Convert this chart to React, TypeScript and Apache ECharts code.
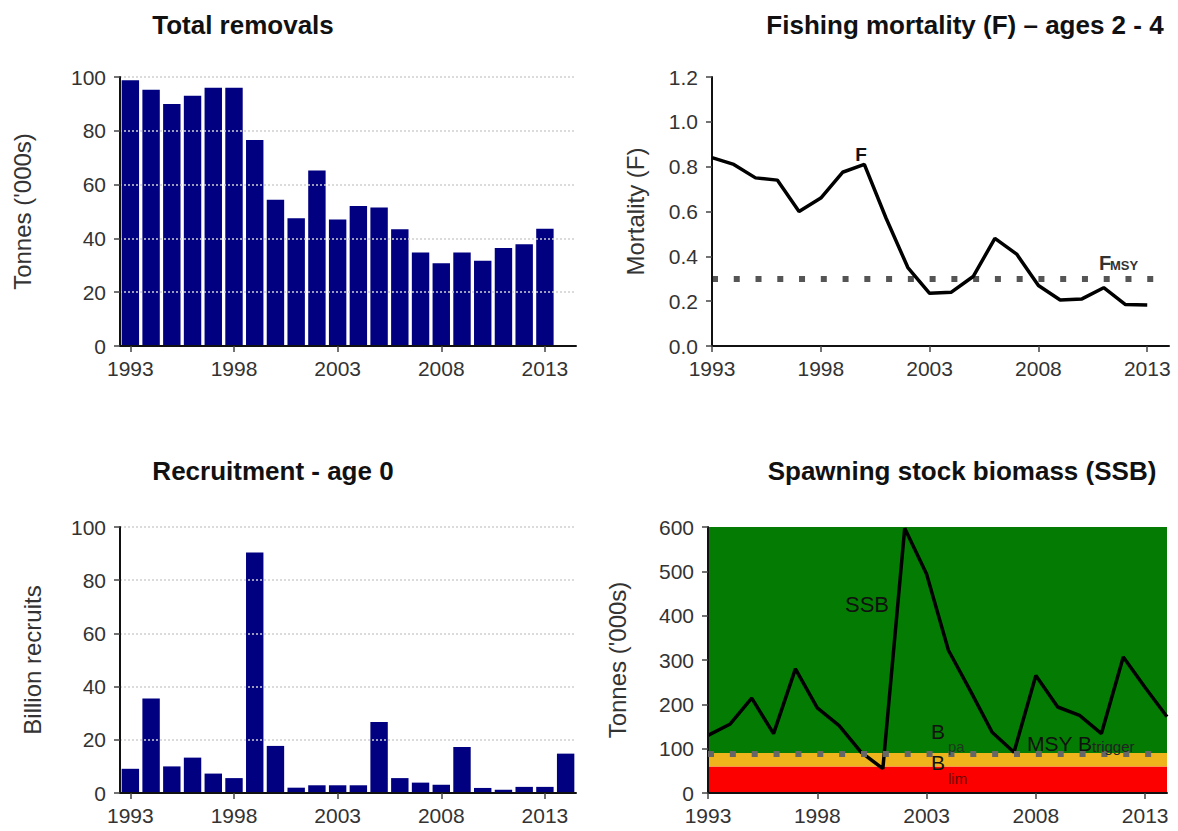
import React, { useEffect, useRef } from "react";
import * as echarts from "echarts";

// ---------- data ----------
const years = [
  "1993", "1994", "1995", "1996", "1997", "1998", "1999", "2000", "2001", "2002", "2003",
  "2004", "2005", "2006", "2007", "2008", "2009", "2010", "2011", "2012", "2013", "2014",
];
// Total removals, tonnes ('000s), 1993-2013
const removals = [98.8, 95.3, 90, 93, 96, 96, 76.6, 54.4, 47.5, 65.2, 47, 52, 51.5, 43.4, 34.8, 30.8, 34.8, 31.7, 36.4, 37.8, 43.6];
// Recruitment age 0, billion recruits, 1993-2014
const recruitment = [9.1, 35.5, 10, 13.3, 7.3, 5.6, 90.4, 17.7, 2, 2.9, 2.9, 2.9, 26.7, 5.6, 3.9, 3.1, 17.3, 1.9, 1.2, 2.3, 2.3, 14.8];
// Fishing mortality ages 2-4, 1993-2013
const fishingMortality = [0.84, 0.81, 0.75, 0.74, 0.6, 0.66, 0.775, 0.81, 0.57, 0.35, 0.235, 0.24, 0.31, 0.48, 0.41, 0.27, 0.205, 0.21, 0.26, 0.185, 0.183];
const fMsy = 0.3;
// Spawning stock biomass, tonnes ('000s), 1993-2014
const ssb = [130, 155, 214, 134, 280, 192, 152, 92, 55, 597, 494, 322, 231, 137, 92, 265, 194, 175, 134, 307, 238, 172];
const bLim = 60;
const bPa = 90;
const msyBtrigger = 89;

// ---------- styles ----------
const FONT = '"Liberation Sans", Arial, Helvetica, sans-serif';
const NAVY = "#000080";
const GREEN = "#047c04";
const ORANGE = "#efb41c";
const RED = "#fc0000";

const tickLabel = { color: "#333", fontSize: 21, fontFamily: FONT };
const axisLine = { show: true, lineStyle: { color: "#111", width: 2 } };
const yTick = { show: true, length: 6, lineStyle: { color: "#444", width: 1.5 } };

function txt(text: string, x: number, y: number, size: number, opts: any = {}) {
  const align = opts.align || "center";
  return {
    type: "text",
    x,
    y,
    z: 100,
    silent: true,
    style: {
      text,
      fontSize: size,
      fontFamily: FONT,
      fontWeight: opts.bold ? "bold" : "normal",
      fill: opts.color || "#111",
      align,
      verticalAlign: "middle",
      textAlign: align,
      textVerticalAlign: "middle",
    },
  };
}

function catX(gridIndex: number, boundaryGap: boolean) {
  return {
    type: "category",
    gridIndex,
    data: years,
    boundaryGap,
    z: 3,
    axisLine,
    axisTick: { show: true, alignWithLabel: true, interval: 4, length: 6, lineStyle: { color: "#444", width: 1.5 } },
    axisLabel: { interval: 4, margin: 12, ...tickLabel },
    splitLine: { show: false },
  };
}

function valY(gridIndex: number, max: number, interval: number, name: string, nameGap: number, grid: boolean, fmt?: (v: number) => string) {
  return {
    type: "value",
    gridIndex,
    min: 0,
    max,
    interval,
    z: 3,
    name,
    nameLocation: "middle",
    nameGap,
    nameRotate: 90,
    nameTextStyle: { color: "#333", fontSize: 24, fontFamily: FONT },
    axisLine,
    axisTick: yTick,
    axisLabel: { margin: 14, ...tickLabel, formatter: fmt },
    splitLine: grid
      ? { show: true, lineStyle: { color: "#cfcfcf", width: 1.5, type: [2, 2] } }
      : { show: false },
  };
}

export default function App() {
  const ref = useRef<HTMLDivElement>(null);

  useEffect(() => {
    if (!ref.current) return;
    const chart = echarts.init(ref.current, undefined, { renderer: "svg" });
    const period4 = 459 / 21;
    const period2 = 457 / 21;

    const option: any = {
      animation: false,
      backgroundColor: "#ffffff",
      grid: [
        { left: 120, top: 77, width: 456, height: 269 },
        { left: 712, top: 77, width: 457, height: 269 },
        { left: 120, top: 527, width: 456, height: 266 },
        { left: 708, top: 527, width: 459, height: 266 },
      ],
      xAxis: [catX(0, true), catX(1, false), catX(2, true), catX(3, false)],
      yAxis: [
        valY(0, 100, 20, "Tonnes ('000s)", 86, true),
        valY(1, 1.2, 0.2, "Mortality (F)", 65, false, (v: number) => v.toFixed(1)),
        valY(2, 100, 20, "Billion recruits", 76, true),
        valY(3, 600, 100, "Tonnes ('000s)", 79, false),
      ],
      series: [
        {
          type: "bar",
          xAxisIndex: 0,
          yAxisIndex: 0,
          data: removals,
          barCategoryGap: "16%",
          itemStyle: { color: NAVY },
        },
        {
          type: "line",
          xAxisIndex: 1,
          yAxisIndex: 1,
          data: fishingMortality,
          symbol: "none",
          lineStyle: { color: "#000", width: 3.5 },
          z: 3,
          markLine: {
            silent: true,
            symbol: ["none", "none"],
            label: { show: false },
            lineStyle: { color: "#555", width: 6, type: [6, period2 - 6] },
            data: [[{ coord: ["1993", fMsy] }, { coord: ["2014", fMsy] }]],
            z: 2,
          },
        },
        {
          type: "bar",
          xAxisIndex: 2,
          yAxisIndex: 2,
          data: recruitment,
          barCategoryGap: "16%",
          itemStyle: { color: NAVY },
        },
        {
          type: "line",
          xAxisIndex: 3,
          yAxisIndex: 3,
          data: ssb,
          symbol: "none",
          lineStyle: { color: "#000", width: 3.5 },
          z: 2,
          markArea: {
            silent: true,
            data: [
              [{ coord: ["1993", 0], itemStyle: { color: RED } }, { coord: ["2014", bLim] }],
              [{ coord: ["1993", bLim], itemStyle: { color: ORANGE } }, { coord: ["2014", bPa] }],
              [{ coord: ["1993", bPa], itemStyle: { color: GREEN } }, { coord: ["2014", 600] }],
            ],
          },
          markLine: {
            silent: true,
            symbol: ["none", "none"],
            label: { show: false },
            lineStyle: { color: "#666", width: 6, type: [6, period4 - 6] },
            data: [[{ coord: ["1993", msyBtrigger] }, { coord: ["2014", msyBtrigger] }]],
          },
        },
      ],
      graphic: [
        txt("Total removals", 243, 25, 26, { bold: true }),
        txt("Fishing mortality (F) \u2013 ages 2 - 4", 965, 25, 26, { bold: true }),
        txt("Recruitment - age 0", 273, 471, 26, { bold: true }),
        txt("Spawning stock biomass (SSB)", 962, 471, 26, { bold: true }),
        txt("F", 861, 154, 19, { bold: true }),
        txt("F", 1099, 263, 20, { bold: true, align: "left", color: "#333" }),
        txt("MSY", 1110, 265, 13, { bold: true, align: "left", color: "#333" }),
        txt("SSB", 867, 604, 22),
        txt("B", 931, 731, 21, { align: "left" }),
        txt("pa", 948, 746, 15, { align: "left", color: "#1c3a1c" }),
        txt("B", 931, 762, 21, { align: "left" }),
        txt("lim", 948, 778, 15, { align: "left", color: "#6a0000" }),
        txt("MSY B", 1027, 743, 21, { align: "left" }),
        txt("trigger", 1092, 746, 15, { align: "left", color: "#222" }),
      ],
    };

    chart.setOption(option);
    return () => chart.dispose();
  }, []);

  return (
    <div
      ref={ref}
      style={{ position: "absolute", left: 0, top: 0, width: 1178, height: 831, background: "#fff" }}
    />
  );
}
